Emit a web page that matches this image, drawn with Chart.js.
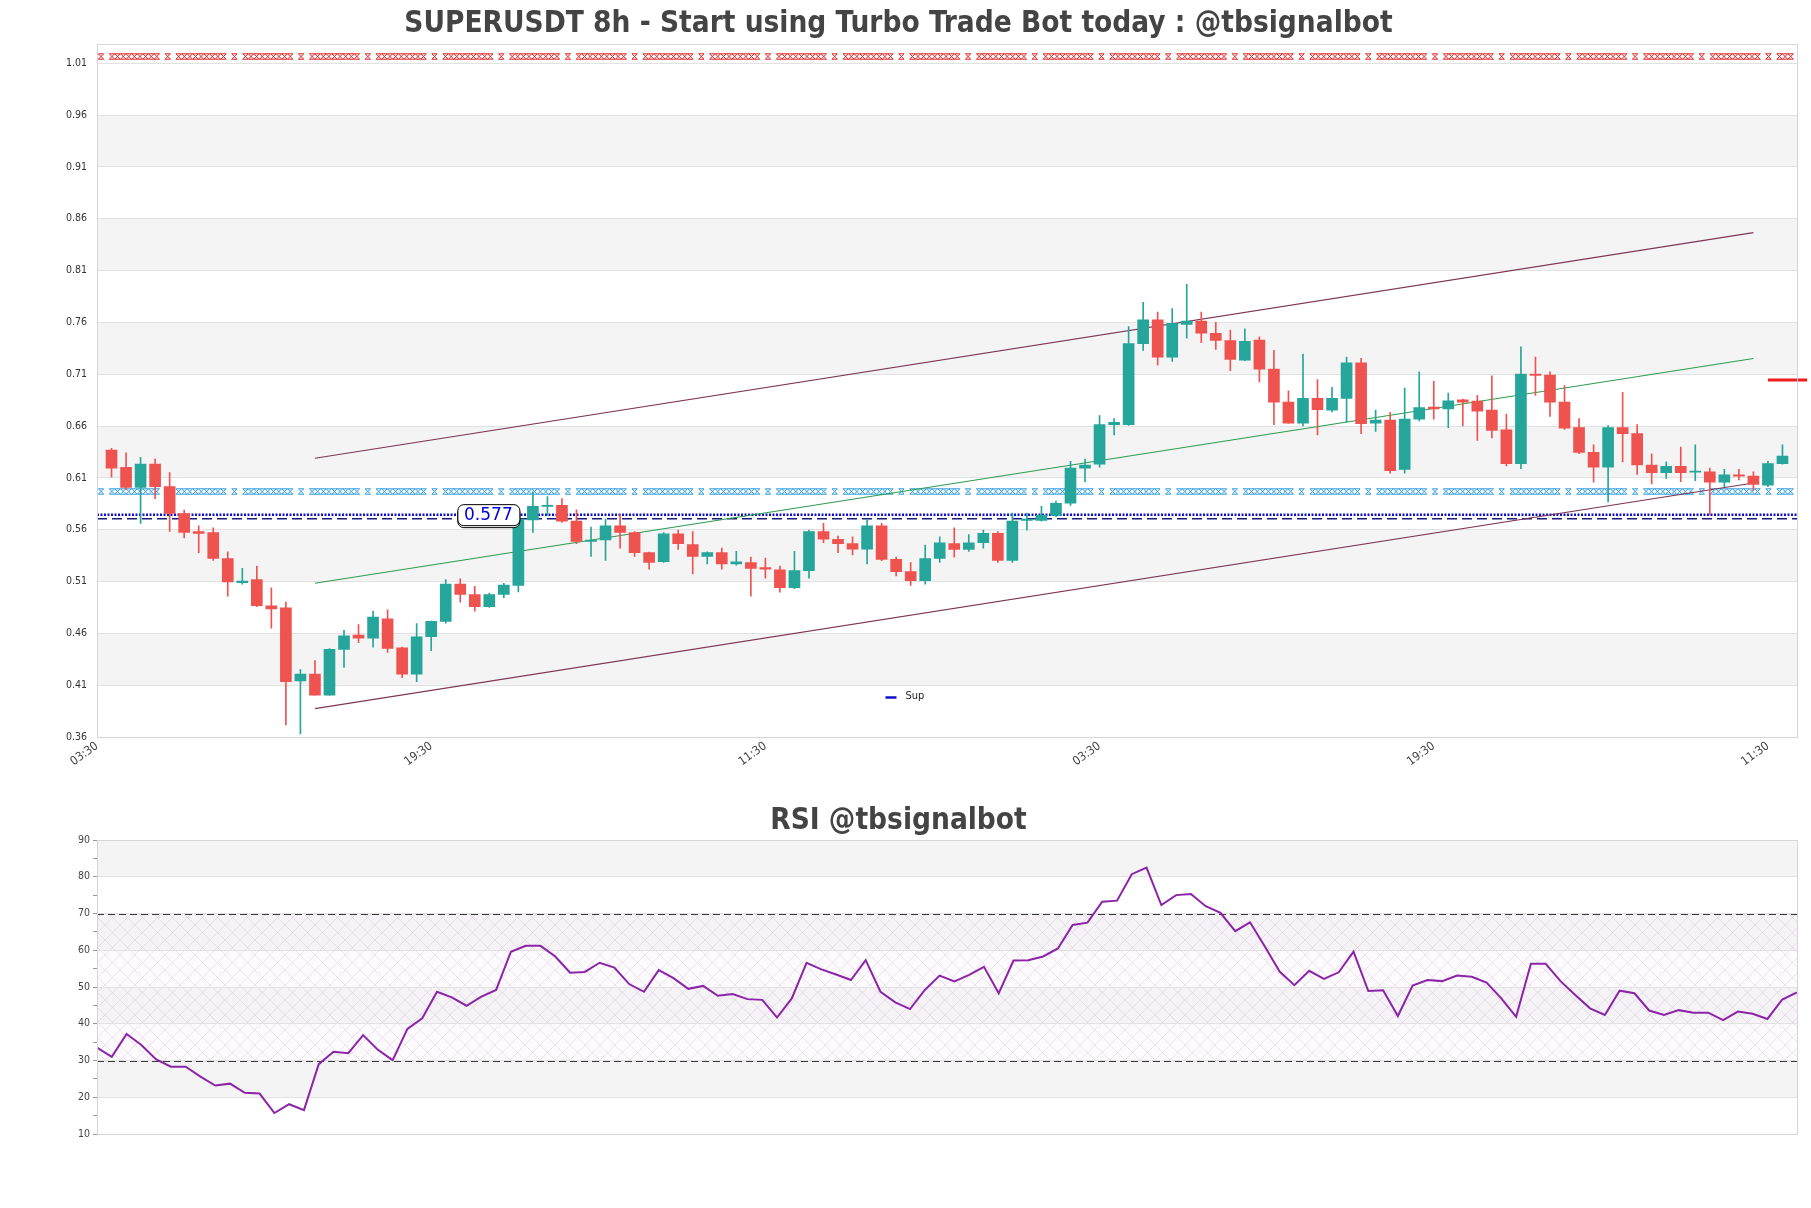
<!DOCTYPE html>
<html><head><meta charset="utf-8">
<script src="https://cdn.jsdelivr.net/npm/chart.js@4.4.1/dist/chart.umd.min.js"></script>
<style>
html,body{margin:0;padding:0;background:#fff;width:1811px;height:1208px;overflow:hidden}
#w1{position:absolute;left:0;top:0}
#w2{position:absolute;left:0;top:790px}
</style></head><body>
<div id="w1"><canvas id="c1" width="1811" height="790"></canvas></div>
<div id="w2"><canvas id="c2" width="1811" height="418"></canvas></div>
<script>
const FONT = "'DejaVu Sans Condensed','DejaVu Sans',sans-serif";
const titleText = "SUPERUSDT 8h - Start using Turbo Trade Bot today : @tbsignalbot";
const rsiTitleText = "RSI @tbsignalbot";

const xTickPositions = [-1, 22, 45, 68, 91, 114];
const xTickLabels = ["03:30", "19:30", "11:30", "03:30", "19:30", "11:30"];
const yTickLabels = ["0.36","0.41","0.46","0.51","0.56","0.61","0.66","0.71","0.76","0.81","0.86","0.91","0.96","1.01"];
const yTickValues = [0.3625,0.4125,0.4625,0.5125,0.5625,0.6125,0.6625,0.7125,0.7625,0.8125,0.8625,0.9125,0.9625,1.0125];
const yMin = 0.3625, yMax = 1.0314;

const opens = [0.6392,0.6227,0.6032,0.6258,0.6041,0.5781,0.5607,0.5598,0.5347,0.5113,
0.5143,0.4891,0.4870,0.4167,0.4232,0.4028,0.4471,0.4609,0.4579,0.4766,
0.4484,0.4232,0.4592,0.4740,0.5100,0.5000,0.4883,0.5000,0.5087,0.5720,
0.5850,0.5859,0.5707,0.5512,0.5525,0.5663,0.5598,0.5403,0.5316,0.5585,
0.5481,0.5368,0.5403,0.5295,0.5308,0.5260,0.5238,0.5065,0.5230,0.5607,
0.5533,0.5490,0.5438,0.5663,0.5338,0.5221,0.5134,0.5347,0.5490,0.5434,
0.5499,0.5590,0.5329,0.5715,0.5715,0.5763,0.5880,0.6218,0.6258,0.6639,
0.6639,0.7420,0.7650,0.7290,0.7606,0.7637,0.7520,0.7450,0.7260,0.7455,
0.7173,0.6856,0.6652,0.6891,0.6778,0.6891,0.7234,0.6652,0.6682,0.6206,
0.6691,0.6808,0.6791,0.6878,0.6865,0.6778,0.6587,0.6262,0.7125,0.7116,
0.6856,0.6609,0.6370,0.6227,0.6609,0.6552,0.6249,0.6175,0.6236,0.6180,
0.6184,0.6084,0.6154,0.6141,0.6054,0.6262];
const highs = [0.6409,0.6366,0.6323,0.6305,0.6175,0.5815,0.5663,0.5642,0.5412,0.5251,
0.5273,0.5065,0.4926,0.4276,0.4362,0.4479,0.4653,0.4709,0.4839,0.4852,
0.4492,0.4718,0.4744,0.5143,0.5152,0.5078,0.5013,0.5108,0.5760,0.5989,
0.5945,0.5924,0.5816,0.5650,0.5728,0.5772,0.5607,0.5410,0.5598,0.5620,
0.5607,0.5412,0.5447,0.5416,0.5360,0.5351,0.5273,0.5416,0.5620,0.5685,
0.5564,0.5555,0.5728,0.5685,0.5360,0.5308,0.5477,0.5555,0.5642,0.5577,
0.5620,0.5607,0.5785,0.5785,0.5850,0.5902,0.6284,0.6305,0.6726,0.6696,
0.7585,0.7819,0.7723,0.7758,0.7992,0.7723,0.7624,0.7550,0.7563,0.7485,
0.7355,0.6964,0.7320,0.7073,0.6999,0.7290,0.7277,0.6778,0.6756,0.6990,
0.7147,0.7056,0.6943,0.6886,0.6921,0.7108,0.6739,0.7390,0.7290,0.7147,
0.7016,0.6696,0.6444,0.6630,0.6951,0.6639,0.6357,0.6279,0.6422,0.6444,
0.6219,0.6206,0.6206,0.6184,0.6284,0.6444];
const lows = [0.6132,0.6010,0.5685,0.5924,0.5607,0.5546,0.5403,0.5329,0.4983,0.5100,
0.4883,0.4675,0.3742,0.3655,0.4028,0.4028,0.4297,0.4536,0.4492,0.4440,
0.4197,0.4158,0.4458,0.4722,0.4926,0.4839,0.4874,0.4969,0.5025,0.5598,
0.5763,0.5694,0.5490,0.5368,0.5329,0.5447,0.5368,0.5243,0.5308,0.5434,
0.5199,0.5295,0.5243,0.5282,0.4983,0.5156,0.5022,0.5056,0.5156,0.5499,
0.5403,0.5382,0.5295,0.5325,0.5178,0.5087,0.5100,0.5308,0.5360,0.5416,
0.5447,0.5308,0.5308,0.5620,0.5707,0.5750,0.5859,0.6088,0.6227,0.6539,
0.6630,0.7354,0.7212,0.7247,0.7472,0.7429,0.7363,0.7160,0.7255,0.7051,
0.6639,0.6652,0.6626,0.6539,0.6761,0.6661,0.6552,0.6574,0.6171,0.6171,
0.6674,0.6691,0.6609,0.6626,0.6487,0.6509,0.6240,0.6214,0.6921,0.6717,
0.6591,0.6357,0.6084,0.5893,0.6279,0.6158,0.6067,0.6119,0.6088,0.6097,
0.5772,0.6041,0.6106,0.6002,0.6041,0.6258];
const closes = [0.6218,0.6032,0.6258,0.6041,0.5781,0.5598,0.5590,0.5347,0.5121,0.5130,
0.4891,0.4861,0.4158,0.4232,0.4028,0.4471,0.4601,0.4579,0.4783,0.4479,
0.4232,0.4592,0.4740,0.5100,0.5000,0.4883,0.5000,0.5091,0.5728,0.5850,
0.5859,0.5707,0.5512,0.5525,0.5663,0.5598,0.5403,0.5308,0.5585,0.5490,
0.5368,0.5403,0.5295,0.5316,0.5251,0.5243,0.5065,0.5230,0.5607,0.5533,
0.5490,0.5438,0.5663,0.5338,0.5221,0.5134,0.5347,0.5499,0.5434,0.5499,
0.5590,0.5329,0.5707,0.5728,0.5763,0.5880,0.6218,0.6249,0.6639,0.6661,
0.7420,0.7650,0.7290,0.7615,0.7637,0.7520,0.7450,0.7268,0.7442,0.7173,
0.6856,0.6652,0.6891,0.6782,0.6891,0.7234,0.6648,0.6682,0.6193,0.6691,
0.6804,0.6791,0.6869,0.6856,0.6769,0.6583,0.6262,0.7125,0.7112,0.6856,
0.6605,0.6370,0.6227,0.6609,0.6552,0.6249,0.6175,0.6236,0.6175,0.6188,
0.6084,0.6154,0.6141,0.6062,0.6262,0.6336];

const rsi = [33.5,31.0,37.2,34.2,30.3,28.3,28.3,25.6,23.2,23.7,
21.2,21.0,15.7,18.1,16.5,29.0,32.4,32.0,36.9,32.9,
30.1,38.6,41.5,48.7,47.2,44.9,47.4,49.2,59.6,61.2,
61.2,58.3,53.9,54.1,56.6,55.3,50.8,48.7,54.6,52.4,
49.5,50.3,47.6,48.1,46.7,46.5,41.7,46.9,56.6,54.8,
53.4,51.9,57.3,48.7,45.8,44.0,49.2,53.1,51.5,53.3,
55.5,48.3,57.2,57.3,58.3,60.5,66.9,67.5,73.2,73.5,
80.7,82.5,72.3,75.0,75.3,72.0,70.2,65.2,67.6,61.0,
54.2,50.5,54.4,52.2,54.0,59.6,48.9,49.1,42.1,50.4,
51.9,51.6,53.1,52.8,51.2,46.9,41.9,56.3,56.3,51.6,
47.8,44.2,42.4,49.0,48.3,43.6,42.4,43.7,43.0,43.0,
41.0,43.3,42.7,41.3,46.6,48.5];
const rsiTickLabels = ["10","20","30","40","50","60","70","80","90"];
const rsiMinorStep = 5;
const rsiLevels = [70, 30];
const rsiZone = [30, 70];

// channel lines (index, value)
const channelX = [14, 113];
const upperY = [0.6314, 0.8491];
const midY = [0.5108, 0.7277];
const lowerY = [0.3898, 0.6075];

const resistLevel = 1.019;   // red marker line
const markerLevel = 0.600;   // cyan marker line
const supLevel = 0.577;      // dotted "Sup"
const supLevel2 = 0.573;     // dashed
const supLabelIndex = 28;
const targetLevel = 0.707;
const targetX = [114, 116.7];

const GREEN = '#26a69a', RED = '#ef5350', BAND = '#f4f4f4', GRID = '#e2e2e2';
const candleColors = opens.map((o, i) => closes[i] >= o ? GREEN : RED);

function drawBands(chart, vals) {
  const {ctx, chartArea: a, scales: {y}} = chart;
  ctx.save(); ctx.fillStyle = BAND;
  for (let k = 1; k + 1 < vals.length; k += 2) {
    const p1 = y.getPixelForValue(vals[k]), p2 = y.getPixelForValue(vals[k + 1]);
    ctx.fillRect(a.left, p2, a.right - a.left, p1 - p2);
  }
  ctx.restore();
}
function drawBorder(chart) {
  const {ctx, chartArea: a} = chart;
  ctx.save(); ctx.strokeStyle = '#d6d6d6'; ctx.lineWidth = 1;
  ctx.strokeRect(Math.round(a.left) + 0.5, Math.round(a.top) + 0.5, Math.round(a.right - a.left), Math.round(a.bottom - a.top));
  ctx.restore();
}
function markerLine(chart, level, color) {
  const {ctx, chartArea: a, scales: {y}} = chart;
  const py = Math.round(y.getPixelForValue(level)) + 0.5;
  const s = 2.7, period = 66.7;
  ctx.save(); ctx.strokeStyle = color; ctx.lineWidth = 1;
  ctx.beginPath();
  const glyph = (x) => {
    ctx.moveTo(x - s, py - s); ctx.lineTo(x + s, py + s);
    ctx.moveTo(x + s, py - s); ctx.lineTo(x - s, py + s);
    ctx.moveTo(x - s, py - s); ctx.lineTo(x + s, py - s);
    ctx.moveTo(x - s, py + s); ctx.lineTo(x + s, py + s);
  };
  for (let p = a.left + 4; p < a.right - 3; p += period) {
    glyph(p);
    for (let q = p + 11; q <= p + 58 && q < a.right - 3; q += 5.6) glyph(q);
  }
  ctx.stroke(); ctx.restore();
}

const mainPlugin = {
  id: 'mainDecor',
  beforeDraw(chart) { drawBands(chart, yTickValues); },
  beforeDatasetsDraw(chart) {
    markerLine(chart, resistLevel, '#e02020');
    markerLine(chart, markerLevel, '#2a9be0');
  },
  afterDatasetsDraw(chart) {
    const {ctx, chartArea: a, scales: {x, y}} = chart;
    drawBorder(chart);
    // price label box
    const py = y.getPixelForValue(supLevel);
    const right = x.getPixelForValue(supLabelIndex) + 1;
    const w = 62, h = 21, left = right - w, top = py - h / 2;
    ctx.save();
    ctx.lineWidth = 1; ctx.strokeStyle = '#000';
    ctx.beginPath(); ctx.roundRect(left + 0.5, top + 2.5, w, h, 6); ctx.fillStyle = '#fff'; ctx.fill(); ctx.stroke();
    ctx.beginPath(); ctx.roundRect(left + 0.5, top + 0.5, w, h, 6); ctx.fill(); ctx.stroke();
    ctx.fillStyle = '#0000dd'; ctx.font = "17px 'DejaVu Sans', sans-serif";
    ctx.textAlign = 'center'; ctx.textBaseline = 'middle';
    ctx.fillText(supLevel.toFixed(3), left + w / 2, top + h / 2 + 1);
    // legend
    const ds = chart.data.datasets.find(d => d.showInLegend);
    const lx = chart.width / 2 - 20, ly = a.bottom - 40;
    ctx.strokeStyle = ds.borderColor; ctx.lineWidth = 2.5; ctx.setLineDash([]);
    ctx.beginPath(); ctx.moveTo(lx, ly + 0.5); ctx.lineTo(lx + 11, ly + 0.5); ctx.stroke();
    ctx.fillStyle = '#222'; ctx.font = "11px " + FONT; ctx.textAlign = 'left';
    ctx.fillText(ds.label, lx + 20, ly - 1);
    ctx.restore();
  }
};

const pt = (xs, ys) => xs.map((v, i) => ({x: v, y: ys[i]}));

new Chart(document.getElementById('c1'), {
  type: 'bar',
  data: {
    datasets: [
      {label: 'body', data: opens.map((o, i) => ({x: i, y: [o, closes[i]]})), backgroundColor: candleColors,
        borderWidth: 0, barThickness: 11, grouped: false, minBarLength: 1, order: 0},
      {label: 'wick', data: opens.map((o, i) => ({x: i, y: [lows[i], highs[i]]})), backgroundColor: candleColors,
        borderWidth: 0, barThickness: 1, grouped: false, order: 1},
      {type: 'line', label: 'upper', data: pt(channelX, upperY), borderColor: '#7d3658', borderWidth: 1.2, pointRadius: 0, order: 5},
      {type: 'line', label: 'mid', data: pt(channelX, midY), borderColor: '#2f9c50', borderWidth: 1.1, pointRadius: 0, order: 5},
      {type: 'line', label: 'lower', data: pt(channelX, lowerY), borderColor: '#7d3658', borderWidth: 1.2, pointRadius: 0, order: 5},
      {type: 'line', label: 'Sup', showInLegend: true, data: [{x: -1, y: supLevel}, {x: 116, y: supLevel}], borderColor: '#1010cc',
        borderWidth: 2.5, borderDash: [2, 1.5], pointRadius: 0, order: 6},
      {type: 'line', label: 'Sup2', data: [{x: -1, y: supLevel2}, {x: 116, y: supLevel2}], borderColor: '#1a1a7a',
        borderWidth: 1.5, borderDash: [10, 5], pointRadius: 0, order: 6},
      {type: 'line', label: 'target', data: [{x: targetX[0], y: targetLevel}, {x: targetX[1], y: targetLevel}], borderColor: '#ee1c1c',
        borderWidth: 3, pointRadius: 0, clip: false, order: 4}
    ]
  },
  options: {
    responsive: false, animation: false,
    layout: {padding: {left: 0, right: 14, top: 0, bottom: 0}},
    plugins: {
      legend: {display: false}, tooltip: {enabled: false},
      title: {display: true, text: titleText, color: '#444', font: {family: FONT, size: 29.5, weight: 'bold'}, padding: {top: 7, bottom: 1.2}}
    },
    scales: {
      x: {
        type: 'linear', min: -1, max: 116, offset: false,
        grid: {display: false, offset: false}, border: {display: false},
        afterBuildTicks: s => { s.ticks = xTickPositions.map(v => ({value: v})); },
        afterFit: s => { s.height = 53; },
        ticks: {callback: (v, i) => xTickLabels[i], minRotation: 36, maxRotation: 36, autoSkip: false,
          font: {family: FONT, size: 12}, color: '#444', padding: -6}
      },
      y: {
        type: 'linear', min: yMin, max: yMax,
        afterBuildTicks: s => { s.ticks = yTickValues.map(v => ({value: v})); },
        afterFit: s => { s.width = 97; },
        ticks: {callback: (v, i) => yTickLabels[i], font: {family: FONT, size: 10.5}, color: '#333', padding: 10},
        grid: {color: GRID, drawTicks: false}, border: {display: false}
      }
    }
  },
  plugins: [mainPlugin]
});

// RSI chart
const rsiTickValues = rsiTickLabels.map(Number);
function hatchPattern(ctx) {
  const c = document.createElement('canvas'); c.width = 15; c.height = 15;
  const g = c.getContext('2d');
  g.strokeStyle = 'rgba(190,160,200,0.38)'; g.lineWidth = 0.7;
  g.beginPath(); g.moveTo(0, 0); g.lineTo(15, 15); g.moveTo(15, 0); g.lineTo(0, 15); g.stroke();
  return ctx.createPattern(c, 'repeat');
}
const rsiPlugin = {
  id: 'rsiDecor',
  beforeDraw(chart) {
    drawBands(chart, rsiTickValues);
    const {ctx, chartArea: a, scales: {y}} = chart;
    const p1 = y.getPixelForValue(rsiZone[1]), p2 = y.getPixelForValue(rsiZone[0]);
    ctx.save(); ctx.fillStyle = 'rgba(252,240,252,0.25)'; ctx.fillRect(a.left, p1, a.right - a.left, p2 - p1);
    ctx.fillStyle = hatchPattern(ctx); ctx.fillRect(a.left, p1, a.right - a.left, p2 - p1); ctx.restore();
  },
  beforeDatasetsDraw(chart) {
    const {ctx, chartArea: a, scales: {y}} = chart;
    ctx.save(); ctx.strokeStyle = '#3a3a3a'; ctx.lineWidth = 1.2; ctx.setLineDash([7, 4]);
    rsiLevels.forEach(l => {
      const py = Math.round(y.getPixelForValue(l)) + 0.5;
      ctx.beginPath(); ctx.moveTo(a.left, py); ctx.lineTo(a.right, py); ctx.stroke();
    });
    ctx.restore();
  },
  afterDatasetsDraw(chart) { drawBorder(chart); }
};

new Chart(document.getElementById('c2'), {
  type: 'line',
  data: {datasets: [{label: 'RSI', data: rsi.map((v, i) => ({x: i, y: v})), borderColor: '#8b24a6', borderWidth: 2, pointRadius: 0, tension: 0}]},
  options: {
    responsive: false, animation: false,
    layout: {padding: {left: 0, right: 14, top: 0, bottom: 74}},
    plugins: {
      legend: {display: false}, tooltip: {enabled: false},
      title: {display: true, text: rsiTitleText, color: '#444', font: {family: FONT, size: 29.5, weight: 'bold'}, padding: {top: 14, bottom: 0.6}}
    },
    scales: {
      x: {type: 'linear', min: 0, max: rsi.length - 1, display: false},
      y: {
        type: 'linear', min: rsiTickValues[0], max: rsiTickValues[rsiTickValues.length - 1],
        afterBuildTicks: s => {
          const t = [];
          for (let v = rsiTickValues[0]; v <= rsiTickValues[rsiTickValues.length - 1]; v += rsiMinorStep) t.push({value: v});
          s.ticks = t;
        },
        afterFit: s => { s.width = 97; },
        ticks: {callback: v => (rsiTickValues.includes(v) ? String(v) : ''), font: {family: FONT, size: 10.5}, color: '#444', padding: 3, autoSkip: false},
        grid: {color: c => (rsiTickValues.includes(c.tick.value) ? GRID : 'rgba(0,0,0,0)'), tickColor: '#999', tickLength: 4, drawTicks: true},
        border: {display: false}
      }
    }
  },
  plugins: [rsiPlugin]
});
</script>
</body></html>
